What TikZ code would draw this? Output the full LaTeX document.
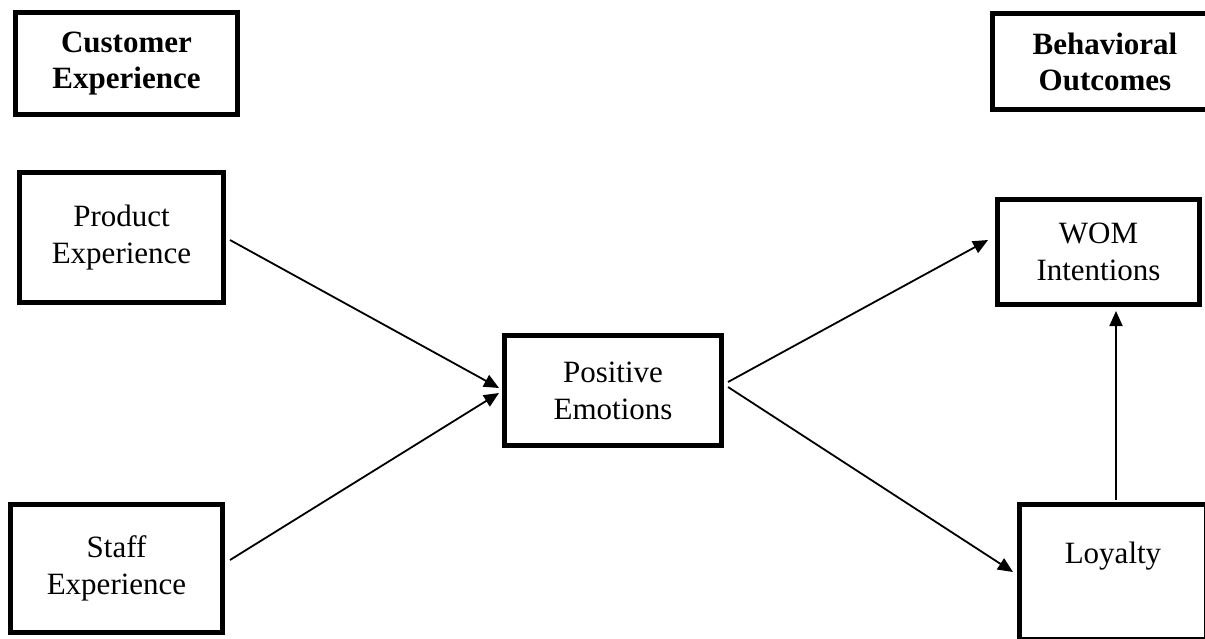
\documentclass[tikz,border=0pt]{standalone}
\usepackage{fontspec}
\setmainfont{Liberation Serif}
\usetikzlibrary{arrows.meta}
\begin{document}
\begin{tikzpicture}[x=1pt,y=-1pt,
  box/.style={draw=black, line width=5pt, fill=white, inner sep=0pt, align=center,
    font=\fontsize{31}{37}\selectfont},
  head/.style={box, font=\fontsize{31}{36}\selectfont\bfseries},
  arr/.style={draw=black, line width=1.8pt, -{Triangle[length=15pt,width=13pt]}}]
\useasboundingbox (0,0) rectangle (1205,638);
\clip (0,0) rectangle (1205,638);
\node[head, minimum width=222pt, minimum height=102pt] (cust) at (126.5,63.5) {Customer\\Experience};
\node[head, minimum width=225pt, minimum height=96pt] (beh) at (1105,61.5) {Behavioral\\Outcomes};
\node[box, minimum width=204pt, minimum height=130pt] (prod) at (121.5,237.5) {Product\\Experience};
\node[box, minimum width=212pt, minimum height=128pt] (staff) at (116.5,568.5) {Staff\\Experience};
\node[box, minimum width=217pt, minimum height=110pt] (pos) at (613,390.5) {Positive\\Emotions};
\node[box, minimum width=202pt, minimum height=105pt] (wom) at (1098.5,252) {WOM\\Intentions};
\node[box, minimum width=187pt, minimum height=135pt,
  label={[font=\fontsize{31}{37}\selectfont, yshift=16pt]center:Loyalty}] (loy) at (1113,572) {};
\draw[arr] ([shift={(4,2.5)}]prod.east) -- ([shift={(-3,-2.5)}]pos.west);
\draw[arr] ([shift={(5,-8.5)}]staff.east) -- ([shift={(-3,2.5)}]pos.west);
\draw[arr] ([shift={(4,-8.5)}]pos.east) -- ([shift={(-7,-12)}]wom.west);
\draw[arr] ([shift={(4,-3.5)}]pos.east) -- ([shift={(-4,0)}]loy.west);
\draw[arr] ([shift={(3,-2)}]loy.north) -- ([shift={(17.5,4)}]wom.south);
\end{tikzpicture}
\end{document}
